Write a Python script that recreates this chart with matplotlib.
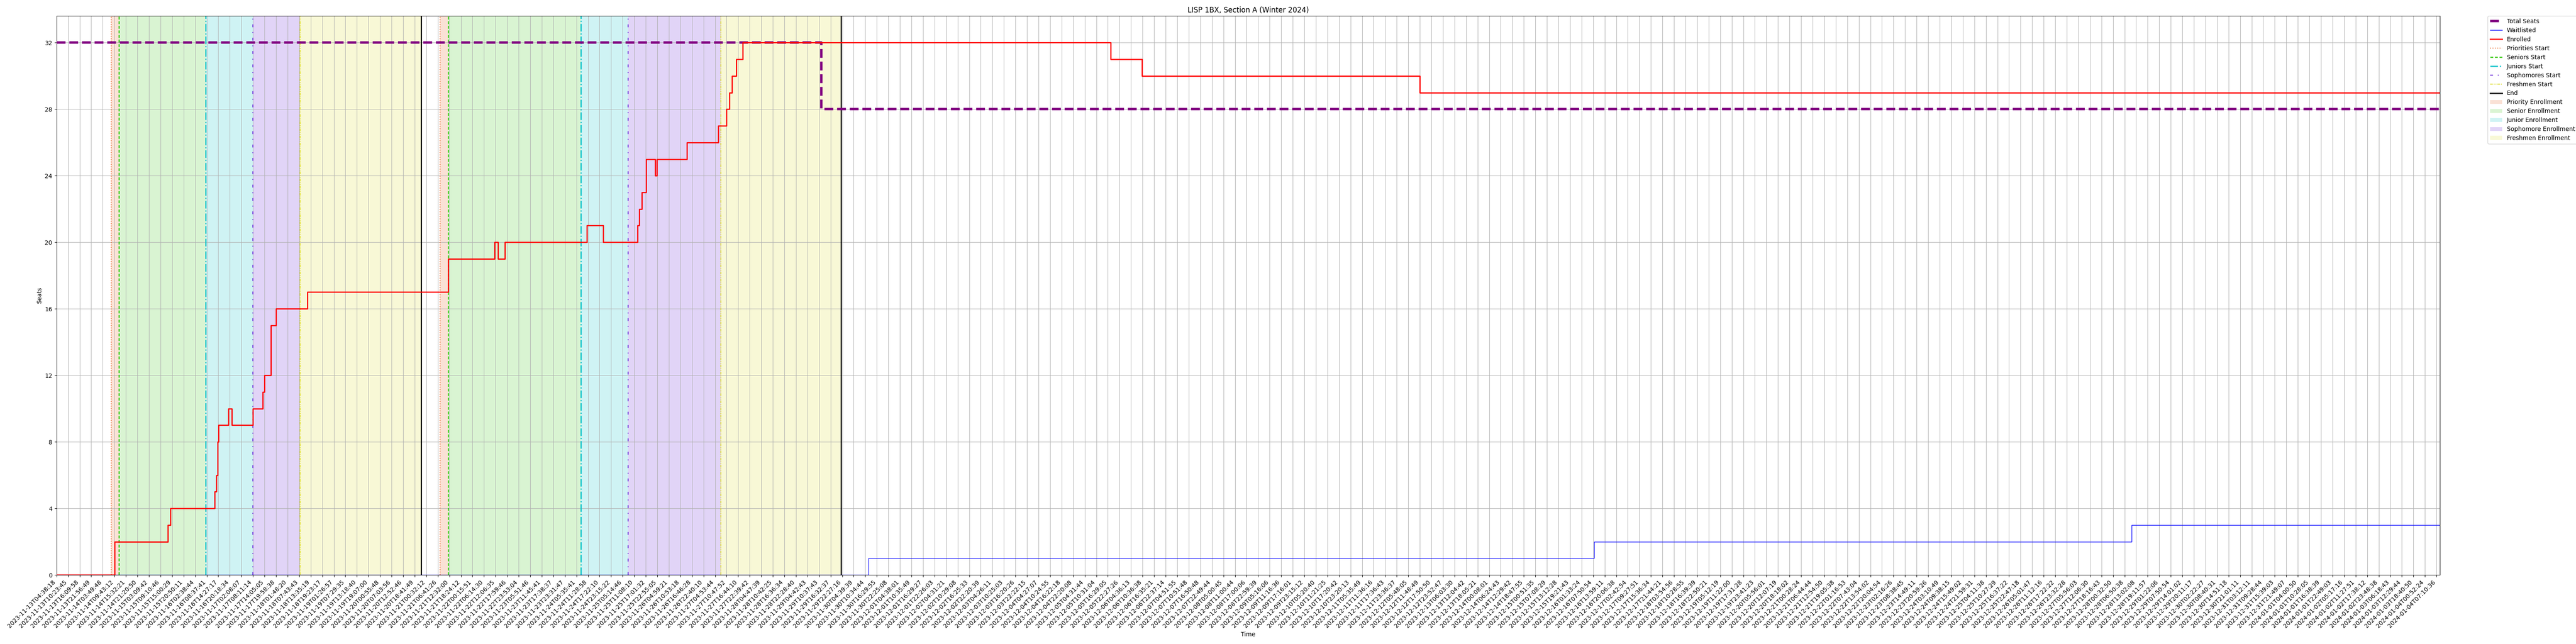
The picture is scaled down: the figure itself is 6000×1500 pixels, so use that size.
import numpy as np
import matplotlib
matplotlib.use("Agg")
import matplotlib.pyplot as plt
from matplotlib.lines import Line2D
from matplotlib.patches import Patch

# ---------------- data ----------------
tick_labels = [
    "2023-11-13T04:38:18", "2023-11-13T10:23:45", "2023-11-13T16:09:58", "2023-11-13T21:56:49",
    "2023-11-14T03:49:48", "2023-11-14T09:43:12", "2023-11-14T15:32:21", "2023-11-14T21:20:50",
    "2023-11-15T03:09:42", "2023-11-15T09:10:46", "2023-11-15T15:00:29", "2023-11-15T20:50:11",
    "2023-11-16T02:38:44", "2023-11-16T08:37:41", "2023-11-16T14:27:17", "2023-11-16T20:18:34",
    "2023-11-17T02:08:07", "2023-11-17T08:11:14", "2023-11-17T14:05:05", "2023-11-17T19:58:38",
    "2023-11-18T01:48:20", "2023-11-18T07:43:43", "2023-11-18T13:35:19", "2023-11-18T19:23:17",
    "2023-11-19T01:26:57", "2023-11-19T07:29:35", "2023-11-19T13:18:40", "2023-11-19T19:07:00",
    "2023-11-20T00:55:48", "2023-11-20T07:03:56", "2023-11-20T12:52:46", "2023-11-20T18:41:49",
    "2023-11-21T00:32:12", "2023-11-21T06:41:26", "2023-11-21T12:32:00", "2023-11-21T18:24:12",
    "2023-11-22T00:15:51", "2023-11-22T06:14:30", "2023-11-22T12:06:35", "2023-11-22T17:59:46",
    "2023-11-22T23:53:04", "2023-11-23T05:51:46", "2023-11-23T11:45:41", "2023-11-23T17:38:37",
    "2023-11-23T23:31:47", "2023-11-24T05:35:41", "2023-11-24T11:28:58", "2023-11-24T17:22:10",
    "2023-11-24T23:15:22", "2023-11-25T05:14:46", "2023-11-25T11:08:10", "2023-11-25T17:01:32",
    "2023-11-25T22:55:05", "2023-11-26T04:59:21", "2023-11-26T10:53:18", "2023-11-26T16:46:28",
    "2023-11-26T22:40:10", "2023-11-27T04:53:44", "2023-11-27T10:47:52", "2023-11-27T16:44:10",
    "2023-11-27T22:39:42", "2023-11-28T04:47:39", "2023-11-28T10:42:25", "2023-11-28T16:36:34",
    "2023-11-28T22:28:40", "2023-11-29T04:42:43", "2023-11-29T10:37:43", "2023-11-29T16:32:37",
    "2023-11-29T22:27:16", "2023-11-30T04:39:39", "2023-11-30T10:34:44", "2023-11-30T16:29:55",
    "2023-11-30T22:25:08", "2023-12-01T04:38:01", "2023-12-01T10:35:49", "2023-12-01T16:29:27",
    "2023-12-01T22:26:03", "2023-12-02T04:31:21", "2023-12-02T10:29:08", "2023-12-02T16:25:33",
    "2023-12-02T22:20:39", "2023-12-03T04:26:11", "2023-12-03T10:25:03", "2023-12-03T16:20:26",
    "2023-12-03T22:22:15", "2023-12-04T04:27:07", "2023-12-04T10:24:55", "2023-12-04T16:22:18",
    "2023-12-04T22:20:08", "2023-12-05T04:31:44", "2023-12-05T10:31:04", "2023-12-05T16:29:05",
    "2023-12-05T22:27:26", "2023-12-06T04:36:13", "2023-12-06T10:36:38", "2023-12-06T16:35:21",
    "2023-12-06T22:37:14", "2023-12-07T04:51:55", "2023-12-07T10:51:48", "2023-12-07T16:50:48",
    "2023-12-07T22:49:44", "2023-12-08T05:00:45", "2023-12-08T11:00:44", "2023-12-08T17:00:06",
    "2023-12-08T22:59:39", "2023-12-09T05:16:06", "2023-12-09T11:16:36", "2023-12-09T17:16:01",
    "2023-12-09T23:15:12", "2023-12-10T05:20:40", "2023-12-10T11:21:25", "2023-12-10T17:20:42",
    "2023-12-10T23:20:13", "2023-12-11T05:35:49", "2023-12-11T11:36:16", "2023-12-11T17:36:43",
    "2023-12-11T23:36:37", "2023-12-12T05:48:05", "2023-12-12T11:48:49", "2023-12-12T17:50:50",
    "2023-12-12T23:52:47", "2023-12-13T06:03:30", "2023-12-13T12:04:42", "2023-12-13T18:05:21",
    "2023-12-14T00:08:01", "2023-12-14T06:24:43", "2023-12-14T12:29:42", "2023-12-14T18:47:55",
    "2023-12-15T00:51:35", "2023-12-15T07:08:29", "2023-12-15T13:12:28", "2023-12-15T19:21:43",
    "2023-12-16T01:33:24", "2023-12-16T07:50:54", "2023-12-16T13:59:11", "2023-12-16T20:06:38",
    "2023-12-17T02:42:54", "2023-12-17T09:27:51", "2023-12-17T15:36:34", "2023-12-17T21:44:21",
    "2023-12-18T03:54:56", "2023-12-18T10:28:55", "2023-12-18T16:39:39", "2023-12-18T22:50:21",
    "2023-12-19T05:12:19", "2023-12-19T11:22:00", "2023-12-19T17:31:28", "2023-12-19T23:41:23",
    "2023-12-20T05:56:01", "2023-12-20T12:07:19", "2023-12-20T18:18:02", "2023-12-21T00:28:24",
    "2023-12-21T06:44:44", "2023-12-21T12:54:50", "2023-12-21T19:05:38", "2023-12-22T01:16:53",
    "2023-12-22T07:43:04", "2023-12-22T13:54:02", "2023-12-22T20:04:54", "2023-12-23T02:16:26",
    "2023-12-23T08:38:45", "2023-12-23T14:49:11", "2023-12-23T20:59:26", "2023-12-24T03:10:49",
    "2023-12-24T09:38:15", "2023-12-24T15:49:02", "2023-12-24T21:59:31", "2023-12-25T04:11:38",
    "2023-12-25T10:27:29", "2023-12-25T16:37:22", "2023-12-25T22:47:18", "2023-12-26T05:01:47",
    "2023-12-26T11:12:16", "2023-12-26T17:22:22", "2023-12-26T23:32:28", "2023-12-27T05:56:03",
    "2023-12-27T12:06:30", "2023-12-27T18:16:43", "2023-12-28T00:32:50", "2023-12-28T06:50:38",
    "2023-12-28T13:02:08", "2023-12-28T19:11:57", "2023-12-29T01:22:06", "2023-12-29T07:50:54",
    "2023-12-29T14:01:02", "2023-12-29T20:11:17", "2023-12-30T02:22:27", "2023-12-30T08:40:31",
    "2023-12-30T14:51:18", "2023-12-30T21:01:11", "2023-12-31T03:12:11", "2023-12-31T09:28:44",
    "2023-12-31T15:39:03", "2023-12-31T21:49:07", "2024-01-01T04:00:50", "2024-01-01T10:28:05",
    "2024-01-01T16:38:39", "2024-01-01T22:49:03", "2024-01-02T05:17:16", "2024-01-02T11:27:51",
    "2024-01-02T17:38:12", "2024-01-02T23:48:38", "2024-01-03T06:18:43", "2024-01-03T12:29:44",
    "2024-01-03T18:40:50", "2024-01-04T00:52:24", "2024-01-04T07:10:36",
]

# positions measured in units of the labelled tick spacing
x_end = 206.3

enrolled_x = [0, 5.01, 9.62, 9.87, 13.70, 13.82, 13.93, 14.02, 14.87, 15.16, 17.01, 17.86, 18.0,
              18.15, 18.57, 18.71, 19.0, 21.7, 33.9, 37.9, 38.2, 38.8, 45.9, 47.3, 50.3, 50.45,
              50.65, 51.05, 51.8, 51.95, 54.55, 57.26, 57.97, 58.25, 58.45, 58.6, 58.85, 59.39,
              91.25, 93.95, 117.99]
enrolled_y = [0, 2, 3, 4, 5, 6, 8, 9, 10, 9, 10, 11, 12,
              12, 15, 15, 16, 17, 19, 20, 19, 20, 21, 20, 21, 22,
              23, 25, 24, 25, 26, 27, 28, 29, 30, 30, 31, 32,
              31, 30, 29]

waitlist_x = [0, 70.29, 133.1, 179.6]
waitlist_y = [0, 1, 2, 3]

seats_x = [0, 66.2]
seats_y = [32, 28]

# enrollment phases (two registration passes)
priority_start = [4.73, 33.20]
senior_start = [5.41, 33.89]
junior_start = [12.91, 45.37]
sophomore_start = [17.00, 49.47]
freshmen_start = [21.07, 57.50]
phase_end = [31.55, 67.90]

title = "LISP 1BX, Section A (Winter 2024)"

# ---------------- styles ----------------
c_pri = "#E8692D"
c_sen = "#44CC22"
c_jun = "#11C4CC"
c_sop = "#6A2BD8"
c_fre = "#DDDD33"
span_alpha = 0.2
ls_sen = (0, (2.4, 1.45))
ls_sop = (0, (3, 5, 1, 5))
ls_fre = (0, (3, 1, 1, 1, 1, 1))

fig = plt.figure(figsize=(60, 15), dpi=100)
ax = fig.add_axes([0.02195, 0.1073, 0.9472 - 0.02195, 0.9751 - 0.1073])


def extend(xs, ys):
    return list(xs) + [x_end], list(ys) + [ys[-1]]


sx, sy = extend(seats_x, seats_y)
wx, wy = extend(waitlist_x, waitlist_y)
ex, ey = extend(enrolled_x, enrolled_y)

ax.plot(sx, sy, drawstyle="steps-post", color="purple", lw=4, ls="--", zorder=3)
ax.plot(wx, wy, drawstyle="steps-post", color="blue", lw=1, zorder=3)
ax.plot(ex, ey, drawstyle="steps-post", color="red", lw=2, zorder=3)

for i in range(len(phase_end)):
    ax.axvspan(priority_start[i], senior_start[i], color=c_pri, alpha=span_alpha, lw=0)
    ax.axvspan(senior_start[i], junior_start[i], color=c_sen, alpha=span_alpha, lw=0)
    ax.axvspan(junior_start[i], sophomore_start[i], color=c_jun, alpha=span_alpha, lw=0)
    ax.axvspan(sophomore_start[i], freshmen_start[i], color=c_sop, alpha=span_alpha, lw=0)
    ax.axvspan(freshmen_start[i], phase_end[i], color=c_fre, alpha=span_alpha, lw=0)
    ax.axvline(priority_start[i], color=c_pri, ls=":", lw=1.5)
    ax.axvline(senior_start[i], color=c_sen, ls=ls_sen, lw=2)
    ax.axvline(junior_start[i], color=c_jun, ls="-.", lw=2)
    ax.axvline(sophomore_start[i], color=c_sop, ls=ls_sop, lw=1.6)
    ax.axvline(freshmen_start[i], color=c_fre, ls=ls_fre, lw=1.5)
    ax.axvline(phase_end[i], color="black", ls="-", lw=2)

ax.set_xlim(0, x_end)
ax.set_ylim(0, 33.6)
ax.set_yticks(np.arange(0, 33, 4))
ax.set_xticks(np.arange(len(tick_labels)))
ax.set_xticklabels(tick_labels, rotation=45, ha="right")
ax.grid(True)
ax.set_xlabel("Time")
ax.set_ylabel("Seats")
ax.set_title(title)

handles = [
    Line2D([], [], color="purple", lw=4, ls="--"),
    Line2D([], [], color="blue", lw=1),
    Line2D([], [], color="red", lw=2),
    Line2D([], [], color=c_pri, ls=":", lw=1.5),
    Line2D([], [], color=c_sen, ls=ls_sen, lw=2),
    Line2D([], [], color=c_jun, ls="-.", lw=2),
    Line2D([], [], color=c_sop, ls=ls_sop, lw=1.6),
    Line2D([], [], color=c_fre, ls=ls_fre, lw=1.5),
    Line2D([], [], color="black", lw=2),
    Patch(facecolor=c_pri, alpha=span_alpha),
    Patch(facecolor=c_sen, alpha=span_alpha),
    Patch(facecolor=c_jun, alpha=span_alpha),
    Patch(facecolor=c_sop, alpha=span_alpha),
    Patch(facecolor=c_fre, alpha=span_alpha),
]
labels = ["Total Seats", "Waitlisted", "Enrolled", "Priorities Start", "Seniors Start",
          "Juniors Start", "Sophomores Start", "Freshmen Start", "End",
          "Priority Enrollment", "Senior Enrollment", "Junior Enrollment",
          "Sophomore Enrollment", "Freshmen Enrollment"]
ax.legend(handles, labels, loc="upper left", bbox_to_anchor=(1.02, 1), borderaxespad=0)

fig.savefig("out.png", dpi=100)
